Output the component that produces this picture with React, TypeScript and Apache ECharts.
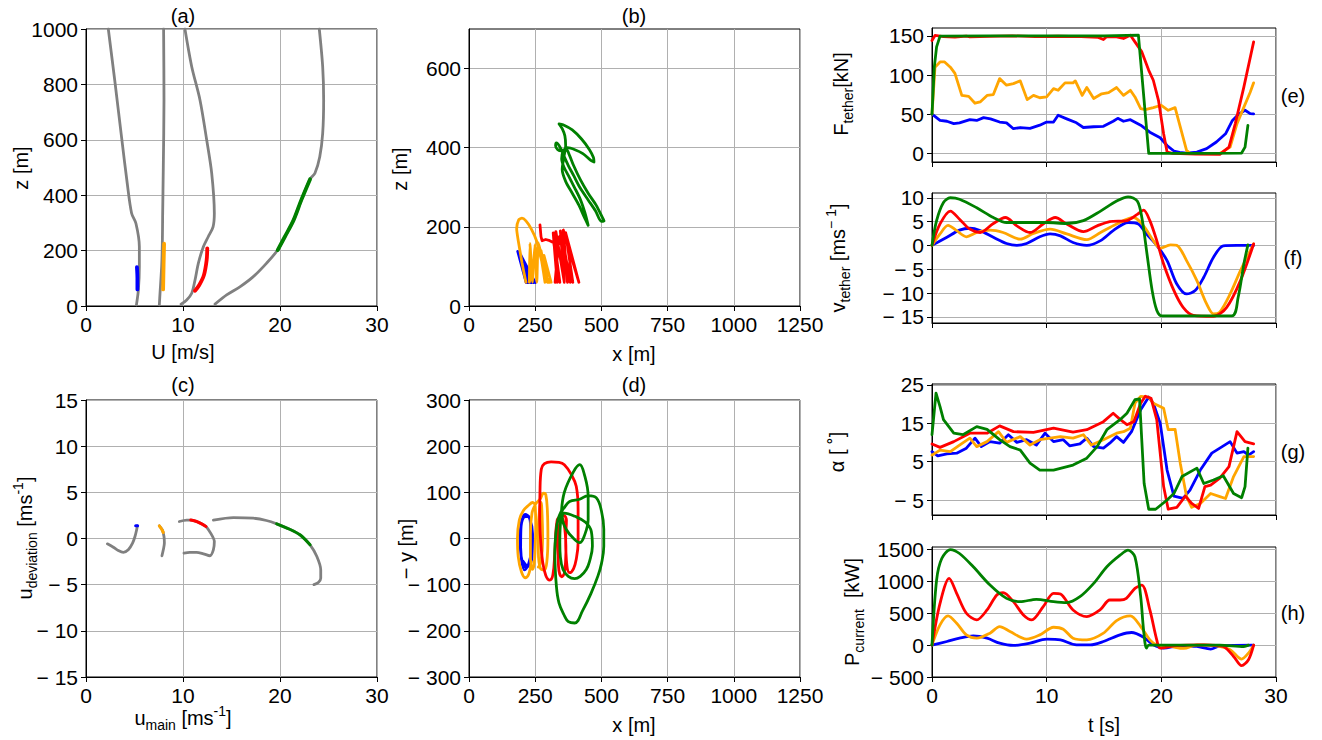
import React, { useEffect, useRef } from "react";
import * as echarts from "echarts";

// ---------- colours ----------
const BLUE = "#0000ff";
const ORANGE = "#ffa500";
const RED = "#ff0000";
const GREEN = "#008000";
const GRAY = "#808080";

// ---------- (a) wind profiles U [m/s] vs z [m] ----------
const profileA1 = [[2.3, 1000], [3.0, 804], [3.7, 600], [4.25, 443], [4.7, 335], [5.15, 298], [5.5, 214], [5.5, 142], [5.4, 58], [5.2, 4]];
const profileA2 = [[8.0, 1000], [8.04, 744], [7.97, 503], [7.9, 322], [7.87, 226], [7.8, 142], [7.63, 46], [7.56, 4]];
const profileA3 = [[10.2, 1000], [10.9, 864], [11.75, 744], [12.44, 600], [12.96, 479], [13.23, 335], [13.1, 286], [12.6, 250], [12.1, 214], [11.58, 154], [11.24, 94], [10.9, 46], [10.38, 22], [9.8, 7]];
const profileA4 = [[24.05, 1000], [24.4, 864], [24.5, 744], [24.4, 623], [24.1, 539], [23.6, 479], [23.1, 458], [22.2, 383], [21.4, 310], [20.5, 250], [19.76, 202], [18.6, 154], [17.25, 106], [15.9, 70], [14.5, 40], [13.3, 7]];
const blueA = [[5.25, 140], [5.3, 100], [5.3, 60]];
const orangeA = [[8.05, 225], [8.0, 150], [7.95, 60]];
const redA = [[12.5, 208], [12.44, 166], [12.16, 112], [11.68, 76], [11.24, 55]];
const greenA = [[23.1, 458], [22.2, 383], [21.4, 310], [20.5, 250], [19.76, 202]];

// ---------- (b) x [m] vs z [m] ----------
const blueB = [[184, 138], [216, 59], [188, 135], [222, 59], [191, 132], [229, 59], [194, 129], [236, 59], [197, 126], [243, 59], [199, 123], [250, 59], [196, 128], [240, 59], [190, 134], [226, 59]];
const orangeB = [[215, 60], [200, 110], [186, 165], [180, 195], [188, 218], [200, 222], [215, 215], [235, 195], [255, 165], [272, 120], [290, 75], [305, 60], [298, 60], [280, 110], [262, 160], [256, 60], [249, 155], [243, 100], [240, 60], [230, 158], [228, 60], [262, 150], [287, 60], [272, 140], [296, 60], [283, 128], [310, 60]];
const redB = [[268, 205], [272, 175], [276, 165], [290, 168], [305, 165], [320, 160], [343, 60], [318, 185], [333, 60], [328, 188], [360, 60], [345, 190], [382, 60], [350, 182], [372, 60], [356, 192], [415, 60], [365, 185], [392, 60], [340, 175], [325, 60]];
const greenB = [[450, 204], [438, 235], [420, 270], [398, 300], [375, 330], [358, 352], [350, 372], [355, 390], [368, 395], [380, 380], [395, 355], [420, 320], [450, 285], [480, 255], [505, 222], [510, 215], [500, 214], [478, 240], [450, 268], [420, 298], [395, 330], [375, 355], [358, 380], [345, 400], [330, 412], [327, 405], [335, 395], [350, 392], [372, 400], [400, 395], [430, 385], [460, 368], [472, 364], [470, 375], [455, 395], [425, 422], [390, 445], [355, 458], [340, 460], [352, 448], [362, 430], [365, 405], [358, 375], [352, 345], [365, 315], [390, 285], [415, 255], [435, 225], [450, 204]];

// ---------- (c) u_main vs u_deviation ----------
const hodoC1 = [[2.2, -0.58], [2.82, -0.94], [3.33, -1.3], [3.85, -1.5], [4.36, -1.23], [4.8, -0.5], [5.05, 0.22], [5.22, 0.94], [5.3, 1.37]];
const hodoC2 = [[7.56, 1.37], [7.87, 0.94], [8.04, 0.22], [8.08, -0.5], [7.97, -1.23], [7.83, -1.87]];
const hodoC3 = [[9.62, 1.84], [10.38, 2.0], [10.8, 2.0], [11.4, 1.84], [11.92, 1.59], [12.37, 1.3], [12.85, 0.58], [13.23, -0.32], [13.13, -1.23], [12.78, -1.87], [12.1, -1.66], [11.4, -1.5], [10.7, -1.5], [10.1, -1.59]];
const hodoC4 = [[13.13, 2.0], [15.2, 2.27], [17.25, 2.2], [18.6, 1.95], [19.66, 1.59], [21.0, 1.0], [22.06, 0.4], [23.1, -0.68], [23.8, -1.95], [24.2, -3.4], [24.2, -4.3], [23.95, -4.76], [23.5, -5.0]];
const blueC = [[5.12, 1.37], [5.32, 1.37]];
const orangeC = [[7.56, 1.37], [7.8, 1.0], [7.97, 0.65]];
const redC = [[10.8, 2.0], [11.4, 1.84], [11.92, 1.59], [12.37, 1.3]];
const greenC = [[19.66, 1.59], [21.0, 1.0], [22.06, 0.4], [23.1, -0.68]];

// ---------- (d) x [m] vs -y [m] ----------
const blueD = [[200, 40], [215, 50], [230, 42], [237, 0], [232, -45], [218, -62], [203, -55], [195, -20], [196, 20], [205, 45], [222, 48], [233, 20], [234, -30], [225, -55], [210, -68], [198, -45], [193, 0], [198, 35], [212, 52], [228, 45], [240, 10], [238, -40], [222, -60], [205, -50]];
const orangeD = [[235, -50], [225, -78], [212, -85], [198, -72], [186, -40], [183, 0], [190, 40], [205, 60], [225, 72], [240, 78], [250, 70], [252, 30], [250, -20], [246, -55], [240, -67], [232, -40], [232, 10], [238, 55], [252, 75], [268, 85], [282, 98], [290, 95], [296, 60], [298, 0], [294, -50], [285, -68], [270, -65], [262, -30], [262, 20], [266, 60], [272, 78], [276, 50], [278, 0], [272, -50], [262, -62]];
const redD = [[267, 41], [268, 100], [273, 150], [285, 162], [310, 166], [340, 165], [360, 160], [385, 140], [405, 113], [412, 63], [412, -9], [405, -45], [395, -65], [380, -74], [370, -60], [365, 0], [368, 40], [358, 50], [345, 40], [336, 0], [338, -60], [350, -83], [360, -75], [366, -30], [362, 20], [348, 48], [333, 40], [324, -31], [317, -78], [305, -90], [290, -80], [278, -50], [270, 0], [267, 41]];
const greenD = [[349, 55], [360, 100], [395, 145], [418, 160], [435, 140], [450, 91], [450, 41], [435, 5], [418, -9], [395, 0], [368, 19], [352, 45], [360, 55], [400, 48], [440, 35], [462, 15], [466, -17], [455, -50], [443, -67], [420, -82], [399, -87], [375, -82], [355, -67], [345, -40], [343, -9], [345, 30], [352, 60], [360, 67], [380, 80], [418, 85], [450, 93], [481, 88], [500, 60], [509, 20], [509, -17], [500, -55], [487, -81], [460, -120], [430, -155], [399, -183], [375, -180], [361, -168], [340, -140], [330, -103], [324, -31], [328, 10], [336, 41], [349, 60]];

// ---------- (e) tether force [kN] vs t [s] ----------
const forceBlue = [[0, 50], [0.7, 42], [1.3, 41], [1.9, 38], [2.4, 39], [3.3, 43], [3.9, 42], [4.5, 45.6], [5.1, 44], [5.9, 40], [6.5, 39], [7.1, 31.5], [7.7, 33], [8.55, 32], [9.4, 36], [10.0, 40], [10.6, 40], [11.0, 48.6], [11.75, 44], [12.6, 39], [13.2, 33], [14.1, 34], [14.95, 34.5], [15.8, 41], [16.2, 44.7], [16.7, 41], [17.3, 43], [18.2, 36], [19.0, 27], [19.9, 20], [20.5, 10], [21.1, 3], [21.6, 1.3], [22.2, 0.4], [23.1, 1.7], [23.95, 6], [24.8, 14.5], [25.6, 25], [26.2, 42], [26.7, 49.4], [27.3, 55], [27.75, 50.7], [28.05, 50.3]];
const forceOrange = [[0, 50], [0.26, 110], [0.7, 116.7], [1.1, 116.7], [1.6, 110], [2.0, 102], [2.6, 74], [3.2, 72.8], [3.75, 64], [4.2, 65.6], [4.8, 74], [5.35, 75], [5.9, 95.4], [6.5, 87], [7.1, 89], [7.7, 92.5], [8.3, 68.6], [8.85, 74], [9.4, 71], [10.0, 72], [10.6, 82.6], [11.0, 80.5], [11.6, 90], [12.3, 90], [12.5, 92.5], [13.1, 74], [13.5, 84], [14.1, 70], [14.8, 76], [15.4, 77.5], [16.1, 84], [16.7, 74], [17.3, 80.5], [17.7, 72], [18.2, 57], [18.6, 55.8], [19.3, 58.4], [20.0, 61.4], [20.6, 55], [21.2, 58.4], [21.65, 33.7], [22.2, 3.8], [22.5, 0], [25.1, 0], [26.0, 8], [26.6, 38], [27.2, 59], [27.75, 78], [28.05, 90]];
const forceRed = [[0, 144], [0.26, 150.5], [1, 149], [2, 148.5], [3, 149.5], [3.3, 148.7], [5, 149.3], [7, 150], [9, 149], [11, 149.5], [13, 149], [14.5, 148], [14.95, 145.3], [15.2, 148.7], [16, 149], [16.7, 146.6], [17.3, 150.8], [17.7, 142.3], [18.3, 129.5], [18.9, 106], [19.3, 93.3], [19.75, 67.7], [20.2, 25], [20.5, 1.7], [21, 0], [23, -1], [25.1, -1.3], [25.9, 8], [26.45, 38], [27.2, 84.8], [28.05, 142.3]];
const forceGreen = [[0, 50], [0.2, 110], [0.4, 136], [0.7, 149.6], [5, 150], [10, 150], [15, 150], [18.0, 150.8], [18.9, 0], [23, 0], [27.0, 0.4], [27.3, 8], [27.55, 35.8]];

// ---------- (f) tether speed [m/s] vs t [s] ----------
const speedBlue = [[0, 0], [1.3, 1.7], [2.4, 3.2], [3.3, 3.6], [4.2, 3.1], [5.35, 1.7], [6.5, 0.4], [7.4, 0], [8.25, 0.4], [9.4, 1.8], [10.3, 2.4], [11.2, 2.0], [12.3, 0.6], [13.5, 0], [14.7, 1.0], [15.8, 3.1], [17.1, 4.8], [18.0, 4.5], [18.7, 2.4], [19.6, 0], [20.5, -3.2], [21.35, -8.1], [22.2, -10.2], [22.95, -9.5], [23.7, -6.7], [24.55, -2.5], [25.4, -0.1], [26.6, 0], [28.05, 0]];
const speedOrange = [[0, 0], [0.7, 2.4], [1.4, 4.2], [2.15, 3.1], [3.0, 1.8], [3.9, 2.7], [5.06, 3.2], [6.2, 2.7], [7.7, 1.3], [8.85, 2.5], [10.3, 3.4], [11.75, 2.4], [13.5, 1.2], [14.7, 2.7], [16.1, 4.5], [17.6, 5.85], [18.45, 4.1], [19.3, 1.0], [19.9, -0.6], [20.8, 0.1], [21.35, 0], [22.2, -3.2], [23.1, -7.4], [23.95, -12.3], [24.55, -14.4], [25.1, -14], [26.0, -10.2], [26.9, -5.3], [28.05, 0.3]];
const speedRed = [[0, 0], [0.7, 4.5], [1.6, 7.2], [2.4, 5.5], [3.3, 3.4], [4.2, 2.7], [5.35, 4.6], [6.4, 5.85], [7.4, 4.1], [8.55, 2.7], [9.7, 4.5], [10.75, 5.85], [11.75, 4.5], [13.2, 2.9], [14.4, 4.1], [15.5, 5.0], [17.0, 5.2], [17.9, 6.5], [18.45, 7.4], [19.0, 5.2], [19.6, 1.0], [20.2, -3.9], [21.1, -9.5], [21.9, -13], [22.8, -14.7], [24.55, -14.9], [25.7, -13], [26.9, -7.4], [28.05, 0.3]];
const speedGreen = [[0, 0], [0.4, 5.2], [1.0, 9.0], [1.6, 10], [2.4, 9.7], [3.9, 7.9], [5.35, 5.85], [6.5, 4.8], [8.25, 4.8], [10.0, 4.8], [11.75, 4.6], [13.2, 5.2], [14.7, 7.2], [16.1, 9.3], [17.1, 10.2], [17.9, 9.3], [18.3, 5.85], [18.75, -1.8], [19.2, -9.5], [19.6, -13.6], [20.05, -14.8], [26.15, -14.8], [26.7, -10.9], [27.2, -3.9], [27.55, 0.1]];

// ---------- (g) angle of attack [deg] vs t [s] ----------
const alphaBlue = [[0, 7.6], [0.5, 6.5], [1.3, 7.0], [2.15, 7.2], [3.0, 8.5], [3.75, 11.1], [4.3, 8.9], [5.06, 10.2], [5.9, 9.8], [6.66, 12.0], [7.4, 10.0], [8.25, 10.7], [9.1, 9.3], [9.86, 12.4], [10.6, 10.2], [11.45, 10.7], [12.0, 9.1], [12.9, 9.6], [13.5, 11.1], [14.1, 8.9], [14.95, 8.5], [15.5, 9.8], [16.1, 11.5], [16.7, 10.0], [17.4, 12.8], [18.2, 18.5], [18.9, 21.8], [19.3, 20.2], [19.9, 15.0], [20.5, 2.8], [21.1, -4.0], [21.9, -4.6], [22.5, -2.4], [23.4, 2.8], [24.4, 7.2], [25.1, 8.5], [26.0, 10.2], [26.6, 7.2], [27.2, 7.6], [27.6, 6.7], [28.05, 7.6]];
const alphaOrange = [[0, 6.7], [0.7, 8.0], [1.6, 7.6], [2.4, 9.3], [3.3, 11.1], [3.9, 8.9], [4.8, 10.2], [5.8, 12.8], [6.5, 10.0], [7.7, 11.5], [8.55, 9.3], [9.4, 10.7], [10.3, 11.1], [11.2, 11.5], [12.3, 11.1], [13.2, 12.0], [13.9, 9.3], [14.95, 10.7], [16.1, 12.4], [16.7, 12.8], [17.3, 13.7], [17.7, 20.2], [18.2, 22.0], [18.9, 21.8], [19.3, 20.2], [20.2, 18.9], [20.6, 13.3], [21.2, 13.4], [21.65, 4.6], [22.2, -4.1], [22.65, -6.9], [23.4, -5.9], [24.3, -3.3], [25.1, -4.1], [25.6, -4.6], [26.3, 1.1], [27.2, 6.3], [28.05, 6.3]];
const alphaRed = [[0, 9.6], [0.7, 8.7], [1.9, 10.2], [3.3, 12.4], [4.8, 12.4], [5.9, 14.3], [7.1, 12.8], [8.85, 12.6], [10.6, 13.7], [12.3, 12.7], [13.5, 13.3], [14.95, 15.4], [15.8, 17.6], [16.4, 16.0], [17.0, 14.6], [17.6, 15.4], [18.2, 20.2], [18.6, 22.0], [19.1, 21.5], [19.6, 15.9], [20.2, -1.5], [20.6, -7.4], [21.35, -6.9], [22.1, -4.0], [22.65, -5.9], [23.25, -7.2], [23.8, -1.5], [24.3, -1.1], [25.1, 0.7], [25.9, 3.7], [26.6, 12.8], [27.3, 10.2], [28.05, 9.6]];
const alphaGreen = [[0, 12.0], [0.35, 22.8], [0.7, 19.3], [1.0, 15.9], [1.9, 12.4], [2.7, 12.0], [3.9, 14.1], [4.8, 13.4], [5.9, 10.7], [6.8, 8.9], [7.7, 8.0], [8.55, 4.6], [9.4, 2.8], [10.6, 2.8], [12.3, 4.1], [13.5, 5.9], [14.4, 8.9], [15.25, 13.3], [16.4, 15.9], [17.0, 17.6], [17.7, 21.1], [18.1, 21.3], [18.5, -0.7], [18.9, -7.4], [19.5, -7.4], [20.5, -5.0], [21.1, -3.3], [21.8, 1.1], [23.1, 3.3], [23.7, -0.7], [24.55, 0.2], [25.4, 1.3], [26.3, -3.3], [27.0, -4.4], [27.3, -1.5], [27.55, 8.5]];

// ---------- (h) power [kW] vs t [s] ----------
const powerBlue = [[0, 0], [1.3, 57], [2.4, 109], [3.6, 146], [4.8, 109], [5.9, 31], [7.1, -5], [8.55, 31], [10.0, 94], [11.2, 83], [12.6, 5], [13.8, 5], [14.95, 57], [16.4, 161], [17.4, 198], [18.45, 125], [19.3, 5], [20.2, -47], [21.6, -10], [23.1, -21], [24.3, -62], [25.1, -10], [28.05, 0]];
const powerOrange = [[0, 0], [0.7, 318], [1.4, 458], [2.15, 344], [3.0, 161], [3.9, 109], [5.06, 188], [5.9, 292], [6.8, 214], [8.25, 94], [9.4, 161], [10.6, 281], [11.45, 250], [12.3, 109], [13.5, 83], [14.95, 188], [16.1, 385], [17.3, 458], [18.2, 292], [19.0, 83], [19.6, 5], [20.8, -21], [21.95, -52], [23.1, 5], [24.8, -10], [26.0, -73], [27.0, -219], [27.6, -125], [28.05, 0]];
const powerRed = [[0, 0], [0.7, 656], [1.5, 1047], [2.15, 813], [3.0, 500], [3.9, 396], [4.8, 552], [5.65, 786], [6.2, 823], [7.1, 682], [7.97, 474], [8.7, 396], [9.7, 604], [10.6, 813], [11.2, 802], [12.3, 552], [13.5, 448], [14.65, 552], [15.5, 708], [16.4, 708], [16.95, 734], [17.7, 891], [18.3, 943], [19.0, 552], [19.6, 83], [19.9, -47], [21.1, -10], [23.7, 5], [25.4, -21], [26.3, -177], [27.0, -323], [27.6, -229], [28.05, 0]];
const powerGreen = [[0, 0], [0.4, 1021], [0.85, 1359], [1.6, 1500], [2.4, 1438], [3.6, 1229], [5.06, 943], [6.5, 734], [7.7, 682], [9.1, 719], [10.6, 682], [11.75, 667], [12.9, 760], [14.1, 969], [15.25, 1229], [16.4, 1411], [17.1, 1490], [17.7, 1385], [18.2, 760], [18.45, 240], [18.7, -47], [18.9, 0], [22.2, 0], [25.1, 0], [27.2, -21], [27.6, 0]];

// ---------- tick values ----------
const ticksB_y = [0, 200, 400, 600];
const ticksE_y = [0, 50, 100, 150];
const ticksF_y = [-15, -10, -5, 0, 5, 10];
const ticksG_y = [-5, 5, 15, 25];
const ticksH_y = [-500, 0, 500, 1000, 1500];

const FONT = "'Liberation Sans', Arial, Helvetica, sans-serif";
const fmt = (v: number) => (v < 0 ? "\u2212 " + Math.abs(v) : String(v));

function axis(gridIndex: number, min: number, max: number, opt: any = {}) {
  const a: any = {
    type: "value",
    gridIndex,
    min,
    max,
    axisLine: { show: true, onZero: false, lineStyle: { color: "#000", width: 1 } },
    axisTick: { show: true, length: 5, lineStyle: { color: "#000", width: 1 } },
    axisLabel: {
      show: opt.labels !== false,
      color: "#000",
      fontSize: 21,
      fontFamily: FONT,
      margin: 8,
      formatter: fmt,
      hideOverlap: false,
    },
    splitLine: { show: true, lineStyle: { color: "#b0b0b0", width: 1 } },
  };
  if (opt.interval !== undefined) a.interval = opt.interval;
  if (opt.custom) {
    a.axisLabel.customValues = opt.custom;
    a.axisTick.customValues = opt.custom;
  }
  return a;
}

function line(idx: number, data: number[][], color: string, width: number, smooth: any = false) {
  return {
    type: "line",
    xAxisIndex: idx,
    yAxisIndex: idx,
    data,
    symbol: "none",
    showSymbol: false,
    smooth,
    silent: true,
    lineStyle: { color, width, join: "round", cap: "round" },
  };
}

function txt(x: number, y: number, text: string, rot = 0, size = 20, rich?: any) {
  const style: any = { text, x: 0, y: 0, fill: "#000", fontSize: size, fontFamily: FONT, align: "center", verticalAlign: "middle" };
  if (rich) style.rich = rich;
  return { type: "text", x, y, rotation: rot, style, silent: true };
}

const RICH = {
  n: { fontSize: 20, fontFamily: FONT, lineHeight: 28, color: "#000" },
  s: { fontSize: 14, fontFamily: FONT, verticalAlign: "bottom", color: "#000" },
  p: { fontSize: 14, fontFamily: FONT, verticalAlign: "top", color: "#000" },
};

export default function App() {
  const ref = useRef<HTMLDivElement>(null);
  useEffect(() => {
    if (!ref.current) return;
    const chart = echarts.init(ref.current, null, { renderer: "svg" });
    const gridBox = (left: number, top: number, width: number, height: number) => ({
      left, top, width, height, show: true, borderColor: "#000", borderWidth: 1, backgroundColor: "transparent", containLabel: false,
    });
    const grids = [
      gridBox(86, 29, 291, 277),
      gridBox(469, 29, 331, 277),
      gridBox(86, 400, 291, 277),
      gridBox(469, 400, 331, 277),
      gridBox(932, 28, 344, 134),
      gridBox(932, 193, 344, 130),
      gridBox(932, 384, 344, 131),
      gridBox(932, 547, 344, 130),
    ];
    const xAxes = [
      axis(0, 0, 30, { interval: 10 }),
      axis(1, 0, 1250, { interval: 250 }),
      axis(2, 0, 30, { interval: 10 }),
      axis(3, 0, 1250, { interval: 250 }),
      axis(4, 0, 30, { interval: 10, labels: false }),
      axis(5, 0, 30, { interval: 10, labels: false }),
      axis(6, 0, 30, { interval: 10, labels: false }),
      axis(7, 0, 30, { interval: 10 }),
    ];
    const yAxes = [
      axis(0, 0, 1000, { interval: 200 }),
      axis(1, 0, 700, { custom: ticksB_y }),
      axis(2, -15, 15, { interval: 5 }),
      axis(3, -300, 300, { interval: 100 }),
      axis(4, -11, 160, { custom: ticksE_y }),
      axis(5, -16.3, 11, { custom: ticksF_y }),
      axis(6, -8.9, 25.2, { custom: ticksG_y }),
      axis(7, -500, 1540, { custom: ticksH_y }),
    ];
    const W = 2.8;
    const series: any[] = [
      line(0, profileA1, GRAY, 2.8, 0.3),
      line(0, profileA2, GRAY, 2.8, 0.3),
      line(0, profileA3, GRAY, 2.8, 0.3),
      line(0, profileA4, GRAY, 2.8, 0.3),
      line(0, blueA, BLUE, 3.8, 0.3),
      line(0, orangeA, ORANGE, 3.8, 0.3),
      line(0, redA, RED, 3.8, 0.3),
      line(0, greenA, GREEN, 3.8, 0.3),

      line(1, blueB, BLUE, W),
      line(1, orangeB, ORANGE, W, 0.2),
      line(1, redB, RED, W),
      line(1, greenB, GREEN, W, 0.3),

      line(2, hodoC1, GRAY, 2.8, 0.3),
      line(2, hodoC2, GRAY, 2.8, 0.3),
      line(2, hodoC3, GRAY, 2.8, 0.3),
      line(2, hodoC4, GRAY, 2.8, 0.3),
      line(2, blueC, BLUE, 3),
      line(2, orangeC, ORANGE, 3, 0.3),
      line(2, redC, RED, 3, 0.3),
      line(2, greenC, GREEN, 3, 0.3),

      line(3, blueD, BLUE, W, 0.4),
      line(3, orangeD, ORANGE, W, 0.4),
      line(3, redD, RED, W, 0.4),
      line(3, greenD, GREEN, W, 0.4),

      line(4, forceBlue, BLUE, W),
      line(4, forceOrange, ORANGE, W),
      line(4, forceRed, RED, W),
      line(4, forceGreen, GREEN, W),

      line(5, speedBlue, BLUE, W, 0.3),
      line(5, speedOrange, ORANGE, W, 0.3),
      line(5, speedRed, RED, W, 0.3),
      line(5, speedGreen, GREEN, W, 0.3),

      line(6, alphaBlue, BLUE, W),
      line(6, alphaOrange, ORANGE, W),
      line(6, alphaRed, RED, W),
      line(6, alphaGreen, GREEN, W),

      line(7, powerBlue, BLUE, W, 0.3),
      line(7, powerOrange, ORANGE, W, 0.3),
      line(7, powerRed, RED, W, 0.3),
      line(7, powerGreen, GREEN, W, 0.3),
    ];
    const L = Math.PI / 2;
    const graphic = [
      txt(183, 16, "(a)"),
      txt(634, 16, "(b)"),
      txt(183, 385, "(c)"),
      txt(634, 385, "(d)"),
      txt(1293, 96, "(e)"),
      txt(1293, 258, "(f)"),
      txt(1293, 452, "(g)"),
      txt(1293, 613, "(h)"),
      txt(183, 352, "U [m/s]"),
      txt(634, 354, "x [m]"),
      txt(634, 725, "x [m]"),
      txt(1104, 725, "t [s]"),
      txt(183, 718, "{n|u}{s|main}{n| [ms}{p|-1}{n|]}", 0, 20, RICH),
      txt(21, 168, "z [m]", L),
      txt(400, 169, "z [m]", L),
      txt(406, 549, "\u2212 y [m]", L),
      txt(25, 538, "{n|u}{s|deviation}{n| [ms}{p|-1}{n|]}", L, 20, RICH),
      txt(841, 94, "{n|F}{s|tether}{n|[kN]}", L, 20, RICH),
      txt(838, 258, "{n|v}{s|tether}{n| [ms}{p|\u2212 1}{n|]}", L, 20, RICH),
      txt(837, 452, "\u03b1 [ \u02da]", L),
      txt(852, 612, "{n|P}{s|current}{n|  [kW]}", L, 20, RICH),
    ];
    chart.setOption({
      animation: false,
      backgroundColor: "#fff",
      grid: grids,
      xAxis: xAxes,
      yAxis: yAxes,
      series,
      graphic,
    });
    return () => chart.dispose();
  }, []);
  return <div ref={ref} style={{ position: "absolute", left: 0, top: 0, width: 1322, height: 740 }} />;
}
